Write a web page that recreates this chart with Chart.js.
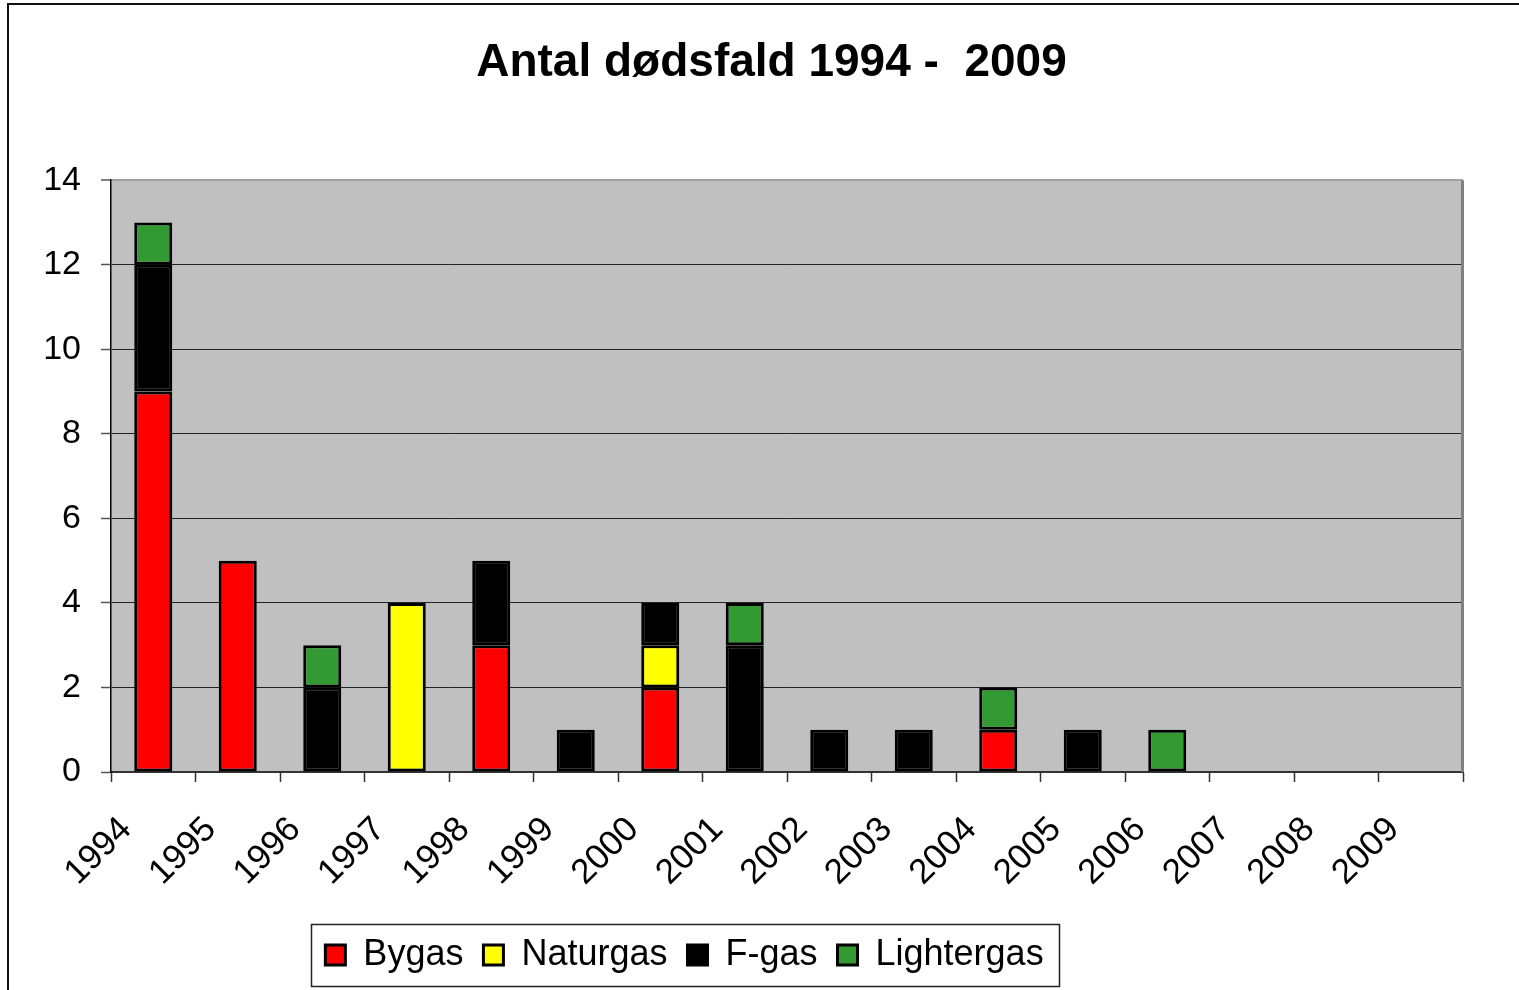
<!DOCTYPE html>
<html>
<head>
<meta charset="utf-8">
<script src="https://cdn.jsdelivr.net/npm/chart.js@4.4.1/dist/chart.umd.min.js"></script>
<style>
    html, body { margin: 0; padding: 0; background: #fff; }
    #wrap { width: 1519px; height: 990px; }
</style>
</head>
<body>
<div id="wrap"><canvas id="deathChart" width="1519" height="990"></canvas></div>
<script>
// Data
const years = ['1994', '1995', '1996', '1997', '1998', '1999', '2000', '2001',
    '2002', '2003', '2004', '2005', '2006', '2007', '2008', '2009'];
const bygas      = [9, 5, 0, 0, 3, 0, 2, 0, 0, 0, 1, 0, 0, 0, 0, 0];
const naturgas   = [0, 0, 0, 4, 0, 0, 1, 0, 0, 0, 0, 0, 0, 0, 0, 0];
const fgas       = [3, 0, 2, 0, 2, 1, 1, 3, 1, 1, 0, 1, 0, 0, 0, 0];
const lightergas = [1, 0, 1, 0, 0, 0, 0, 1, 0, 0, 1, 0, 1, 0, 0, 0];
const yTicks = [0, 2, 4, 6, 8, 10, 12, 14];

const FONT = '"Liberation Sans", Arial, sans-serif';
Chart.defaults.font.family = FONT;
Chart.defaults.color = '#000';

const LEGEND_PAD = 20;
const LEGEND_FONT = 36;

// zero means no segment
const seg = arr => arr.map(v => v === 0 ? null : v);

function makeSet(label, values, color) {
    return {
        label: label,
        data: seg(values),
        backgroundColor: color,
        borderColor: '#000',
        borderWidth: 3,
        borderSkipped: false,
        barPercentage: 0.45,
        categoryPercentage: 1.0
    };
}

// plot area fill, borders, legend box and the frame round the whole picture
const frame = {
    id: 'frame',
    beforeDraw(chart) {
        const { ctx, chartArea: a } = chart;
        ctx.save();
        ctx.fillStyle = '#c0c0c0';
        ctx.fillRect(a.left, a.top, a.right - a.left, a.bottom - a.top);
        ctx.restore();
    },
    beforeDatasetsDraw(chart) {
        const { ctx, chartArea: a } = chart;
        ctx.save();
        ctx.strokeStyle = '#808080';
        ctx.lineWidth = 3;
        ctx.beginPath();
        ctx.moveTo(a.right - 0.5, a.top);
        ctx.lineTo(a.right - 0.5, a.bottom);
        ctx.stroke();
        ctx.restore();
    },
    afterLayout(chart) {
        // title and legend are not centred on the canvas in the original
        const t = chart.titleBlock;
        t.left += 40; t.right += 40;
        t.top += 2; t.bottom += 2;
        const lg = chart.legend;
        lg.left -= 47; lg.right -= 47;
    },
    afterDraw(chart) {
        const { ctx } = chart;
        const lg = chart.legend;
        ctx.save();
        if (lg && lg.lineWidths && lg.lineWidths.length) {
            const lw = lg.lineWidths[0];
            const start = (lg.left + LEGEND_PAD + lg.right - lw) / 2;
            const end = start + lw - LEGEND_PAD;
            const cy = lg.top + LEGEND_PAD + LEGEND_FONT / 2;
            ctx.strokeStyle = '#222';
            ctx.lineWidth = 1.5;
            ctx.strokeRect(Math.round(start - 14) + 0.5, Math.round(cy - 31) + 0.5,
                Math.round(end - start + 30), 62);
        }
        ctx.strokeStyle = '#111';
        ctx.lineWidth = 2;
        ctx.strokeRect(8, 4, chart.width + 20, chart.height + 20);
        ctx.restore();
    }
};

const chart = new Chart(document.getElementById('deathChart').getContext('2d'), {
    type: 'bar',
    data: {
        labels: years,
        datasets: [
            makeSet('Bygas', bygas, '#ff0000'),
            makeSet('Naturgas', naturgas, '#ffff00'),
            makeSet('F-gas', fgas, '#000000'),
            makeSet('Lightergas', lightergas, '#339933')
        ]
    },
    options: {
        responsive: false,
        animation: false,
        devicePixelRatio: 1,
        layout: { padding: { left: 0, right: 56, top: 0, bottom: 7 } },
        scales: {
            x: {
                stacked: true,
                grid: {
                    offset: true,
                    drawOnChartArea: false,
                    drawTicks: true,
                    tickLength: 10,
                    tickColor: '#333',
                    tickWidth: 1.5
                },
                border: { color: '#333', width: 2 },
                ticks: {
                    autoSkip: false,
                    minRotation: 45,
                    maxRotation: 45,
                    padding: 27,
                    labelOffset: -27,
                    font: { size: 35 },
                    color: '#000'
                },
                afterFit: s => { s.height = 145; }
            },
            y: {
                stacked: true,
                min: 0,
                max: 14,
                afterBuildTicks: s => { s.ticks = yTicks.map(v => ({ value: v })); },
                grid: {
                    color: c => c.tick && c.tick.value === 14 ? '#a0a0a0' : '#222',
                    lineWidth: c => c.tick && c.tick.value === 14 ? 2 : 1,
                    tickLength: 10,
                    tickColor: '#555',
                    tickWidth: 1.5
                },
                border: { color: '#000', width: 1.5 },
                ticks: {
                    padding: 20,
                    font: { size: 34 },
                    color: '#000'
                },
                afterFit: s => { s.width = 111; }
            }
        },
        plugins: {
            title: {
                display: true,
                text: 'Antal dødsfald 1994 -  2009',
                font: { size: 46, weight: 'bold' },
                color: '#000',
                padding: { top: 34, bottom: 91 }
            },
            legend: {
                position: 'bottom',
                labels: {
                    font: { size: LEGEND_FONT },
                    boxWidth: 20,
                    boxHeight: 20,
                    padding: LEGEND_PAD,
                    color: '#000'
                }
            },
            tooltip: { enabled: false }
        }
    },
    plugins: [frame]
});
</script>
</body>
</html>
